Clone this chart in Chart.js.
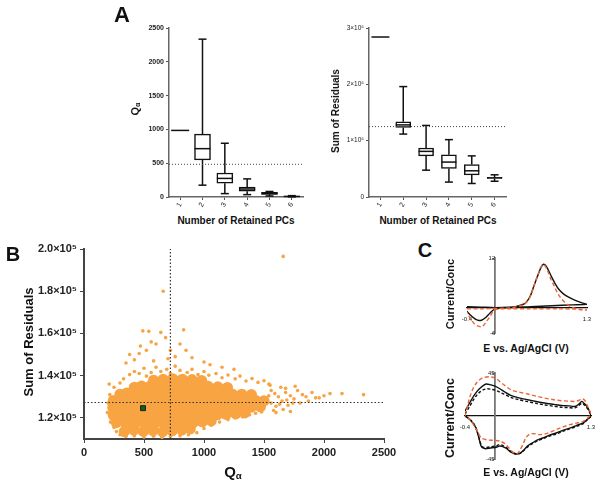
<!DOCTYPE html>
<html>
<head>
<title>Q alpha / residuals</title>
<script src="https://cdn.jsdelivr.net/npm/chart.js"></script>
<style>
  body { margin: 0; background: #fff; }
  #page { position: relative; width: 604px; height: 487px; overflow: hidden; font-family: "Liberation Sans", Arial, sans-serif; color: #111; }
  canvas { position: absolute; }
  .t { position: absolute; white-space: nowrap; font-weight: bold; line-height: 1; transform: translate(-50%, -50%); }
  .r { transform: translate(-50%, -50%) rotate(-90deg); }
  .t sub { font-size: 65%; vertical-align: -0.25em; line-height: 0; }
</style>
</head>
<body>
<div id="page">
  <canvas id="qaBox" width="195" height="215" style="left:120px;top:0px;width:195px;height:215px"></canvas>
  <canvas id="srBox" width="200" height="215" style="left:320px;top:0px;width:200px;height:215px"></canvas>
  <canvas id="scatter" width="400" height="255" style="left:0px;top:232px;width:400px;height:255px"></canvas>
  <canvas id="cvTop" width="160" height="90" style="left:440px;top:250px;width:160px;height:90px"></canvas>
  <canvas id="cvBot" width="160" height="100" style="left:440px;top:365px;width:160px;height:100px"></canvas>

  <div class="t" style="left:122px;top:15px;font-size:22px">A</div>
  <div class="t" style="left:13px;top:254px;font-size:20px">B</div>
  <div class="t" style="left:425px;top:250px;font-size:20px">C</div>
  <div class="t r" style="left:135px;top:109px;font-size:11px">Q<sub>α</sub></div>
  <div class="t" style="left:236px;top:221px;font-size:10px">Number of Retained PCs</div>
  <div class="t r" style="left:336px;top:111px;font-size:10px">Sum of Residuals</div>
  <div class="t" style="left:438px;top:221px;font-size:10px">Number of Retained PCs</div>
  <div class="t r" style="left:28px;top:342px;font-size:13px">Sum of Residuals</div>
  <div class="t" style="left:233px;top:471px;font-size:15px">Q<sub>α</sub></div>
  <div class="t r" style="left:450px;top:294px;font-size:11px">Current/Conc</div>
  <div class="t" style="left:526px;top:348px;font-size:10.5px">E vs. Ag/AgCl (V)</div>
  <div class="t r" style="left:450px;top:418px;font-size:12.5px">Current/Conc</div>
  <div class="t" style="left:526px;top:472px;font-size:10.5px">E vs. Ag/AgCl (V)</div>
</div>

<script>
// ---- data ----
const pcs = ["1", "2", "3", "4", "5", "6"];

// A, left: Q alpha box plots (PC 1 is a single value)
const qaMin = [null, 175, 50, 35, 15, 2];
const qaQ1  = [null, 550, 205, 85, 38, 4];
const qaMed = [985, 715, 275, 118, 50, 8];
const qaQ3  = [null, 930, 355, 145, 68, 14];
const qaMax = [null, 2335, 795, 268, 82, 20];
const qaLimit = 484;

// A, right: sum of residuals box plots
const srMin = [null, 111700, 47600, 26500, 24000, 28000];
const srQ1  = [null, 123500, 73000, 50600, 39400, 33000];
const srMed = [284000, 128000, 81000, 62000, 46500, 34000];
const srQ3  = [null, 133600, 87000, 75000, 57600, 35000];
const srMax = [null, 196000, 127000, 101800, 73000, 39400];
const srLimit = 125000;

// B: dense core of the cloud [Q alpha, sum of residuals]
const cloudCore = [
  [335,113500],[415,114200],[495,113600],[575,114000],[655,113400],[735,113900],[815,114300],[885,114800],
  [270,117800],[350,117200],[430,117600],[510,117000],[590,117400],[670,117100],[750,117500],[830,117300],[910,117800],[985,118200],[1060,118600],
  [245,121200],[310,120800],[390,121000],[470,120600],[550,120900],[630,120700],[710,121100],[790,120800],[870,121000],[950,121200],[1030,121300],[1110,121500],[1185,121700],[1265,122000],[1340,122400],
  [240,124800],[285,124300],[355,124500],[435,124200],[515,124600],[595,124400],[675,124500],[755,124300],[835,124600],[915,124400],[995,124500],[1075,124600],[1155,124700],[1235,124800],[1315,124900],[1395,125100],[1470,125300],
  [245,128200],[310,127800],[390,128000],[470,128200],[550,127900],[630,128100],[710,128000],[790,128300],[870,127900],[950,128100],[1030,128000],[1110,128200],[1190,128000],[1270,128100],[1350,128000],[1430,128300],[1500,128100],
  [300,131200],[355,131700],[435,131500],[515,131800],[595,131600],[675,131900],[755,131700],[835,131800],[915,131600],[995,131700],[1075,131500],[1155,131400],[1235,131300],[1315,131200],[1395,131000],
  [420,134500],[480,135000],[555,135200],[635,135300],[715,135400],[795,135300],[875,135200],[955,135100],[1035,134900],[1115,134700],[1195,134400],
  [580,137800],[660,138200],[740,138500],[820,138300],[900,138100],[980,137700]
];
// B: loose points around the core and outliers
const cloudLoose = [
  [300,136500],[330,138500],[380,140500],[420,142000],[460,141000],[500,143500],[520,139800],[560,141500],[600,144000],[640,142000],
  [690,143000],[720,141000],[760,144500],[800,142500],[860,141500],[900,143000],[950,140500],[1000,142000],[1040,140200],[1100,141000],
  [1150,139000],[1200,140300],[1260,138500],[1300,139800],[1350,137500],[1400,138600],[1450,136800],[1500,137600],[1550,135500],
  [350,146000],[420,147500],[380,150000],[460,150500],[520,152000],[560,156000],[600,155000],[490,161200],[540,161000],[640,160500],
  [680,158000],[720,152000],[800,155000],[830,161700],[850,152000],[700,148000],[900,148500],[1000,146500],[1050,145200],[1150,144000],
  [1250,143000],[660,180000],[1660,196500],[470,154000],[760,149000],[580,147000],
  [200,127000],[195,122500],[210,136000],[215,131000],[250,134500],[220,118000],[250,115500],[270,113500],
  [300,112000],[350,111200],[420,111500],[500,111000],[580,111300],[650,110800],[720,111200],[800,111500],[870,112000],[940,113000],
  [1000,115000],[1060,116500],[1130,118000],[1200,119200],[1260,120000],[1320,120500],[1380,121500],[1430,122200],[1480,122800],
  [1560,133000],[1600,125500],[1620,130000],[1650,128000],[1680,132000],[1700,126000],[1720,130500],[1750,129000],[1780,133000],
  [1800,127000],[1820,131000],[1850,130000],[1870,128000],[1900,132000],[1930,129500],[1560,127000],[1580,123500],[1640,134500],
  [1540,136000],[1600,122500],[1660,124000],[1720,123000],[1680,134000],[1760,135000],[1960,129500],[2000,130500],[2050,131500],
  [2150,131500],[2330,131000],[1540,130500],[1590,131500],[1630,126500],[1690,128500],[1740,127000]
];
const selected = [[492, 124600]];
const qaCut = 720;
const srCut = 127300;

// C: voltammograms [E (V), current/conc]
const cvTopBlack = [
  [-0.4,0.3],[-0.2,0.2],[0,0.1],[0.2,0.2],[0.3,0.4],[0.4,0.9],[0.45,1.6],[0.5,3.0],[0.54,4.9],[0.58,6.8],[0.61,8.1],
  [0.65,9.8],[0.684,10.5],[0.72,10.1],[0.755,9.0],[0.8,7.4],[0.85,5.8],[0.9,4.5],[0.966,3.4],[1.04,2.6],[1.11,2.0],
  [1.2,1.4],[1.276,1.0],[1.3,0.9],[1.1,0.75],[0.8,0.55],[0.5,0.3],[0.2,0.1],[0,-0.2],[-0.073,-1.2],[-0.144,-2.4],
  [-0.205,-3.0],[-0.25,-2.9],[-0.286,-2.6],[-0.357,-1.6],[-0.4,-0.8]
];
const cvTopOrange = [
  [-0.4,-0.2],[-0.2,-0.2],[0,-0.1],[0.2,0],[0.3,0.3],[0.4,0.8],[0.45,1.5],[0.5,2.9],[0.54,4.8],[0.58,6.8],[0.61,8.2],
  [0.65,9.9],[0.68,10.5],[0.71,10.0],[0.75,8.6],[0.79,6.8],[0.826,5.6],[0.87,4.0],[0.92,2.6],[0.97,1.6],[1.015,0.9],
  [1.08,0.2],[1.156,-0.2],[1.25,-0.5],[1.3,-0.5],[1.2,-0.3],[0.9,-0.2],[0.5,-0.2],[0.2,-0.2],[0,-0.4],[-0.073,-2.0],
  [-0.144,-3.7],[-0.19,-4.5],[-0.25,-4.3],[-0.286,-4.0],[-0.357,-2.4],[-0.4,-1.0]
];
const cvBotBlack = [
  [-0.4,5],[-0.377,8.4],[-0.33,14.5],[-0.286,20.5],[-0.24,25.5],[-0.194,29.3],[-0.15,32],[-0.112,33.5],[-0.05,32.5],
  [0.011,31],[0.07,28.5],[0.125,25.7],[0.217,21.6],[0.33,19],[0.446,17],[0.56,15.2],[0.673,13.6],[0.8,12.2],[0.9,11.1],
  [1.0,10.6],[1.085,10.0],[1.13,12],[1.177,15.3],[1.21,13],[1.245,10],[1.28,5],[1.3,0],
  [1.25,-3.5],[1.195,-7.3],[1.1,-10],[1.013,-12.6],[0.92,-15],[0.83,-17.8],[0.74,-20],[0.648,-23],[0.58,-25],[0.51,-28.2],
  [0.45,-31],[0.397,-35.3],[0.35,-38.5],[0.306,-39.7],[0.26,-39.2],[0.215,-37.7],[0.16,-34],[0.1,-31.8],[0.06,-31.5],
  [0.032,-32.4],[-0.058,-33.5],[-0.126,-34.2],[-0.16,-33.5],[-0.181,-31.8],[-0.2,-27],[-0.218,-21.3],[-0.263,-10.9],
  [-0.332,-3.9],[-0.4,0]
];
const cvBotBlackDash = [
  [-0.4,2],[-0.377,5],[-0.33,11],[-0.286,17],[-0.24,22],[-0.194,25.5],[-0.15,27.5],[-0.1,28.5],[-0.05,28],[0.011,27],
  [0.07,25],[0.125,23],[0.217,19.5],[0.33,17],[0.446,15],[0.56,13.2],[0.673,11.6],[0.8,10.2],[0.9,9.2],[1.0,8.7],
  [1.085,8.5],[1.13,10.5],[1.177,13.5],[1.21,11.5],[1.245,8.5],[1.28,4],[1.3,0],
  [1.25,-4],[1.195,-8],[1.1,-11],[1.013,-13.5],[0.92,-16],[0.83,-18.8],[0.74,-21],[0.648,-24],[0.58,-26],[0.51,-29],
  [0.45,-32],[0.397,-35.8],[0.35,-38.8],[0.306,-39.7],[0.26,-39],[0.215,-37],[0.16,-33],[0.1,-30.5],[0.06,-30],
  [0.032,-31],[-0.058,-32.3],[-0.126,-33],[-0.16,-32.5],[-0.181,-30.5],[-0.2,-26],[-0.218,-20.5],[-0.263,-10.5],
  [-0.332,-3.5],[-0.4,0]
];
const cvBotOrange = [
  [-0.4,0],[-0.38,5],[-0.355,14],[-0.33,21],[-0.29,29],[-0.24,35],[-0.194,38.5],[-0.14,40.4],[-0.07,41],[0.011,39.7],
  [0.07,36],[0.125,32.7],[0.217,27.5],[0.33,25],[0.446,23],[0.56,20.8],[0.673,18.8],[0.8,17],[0.9,16],[1.0,15.5],
  [1.085,15.3],[1.14,16.5],[1.18,18.1],[1.22,16],[1.245,11.8],[1.28,6],[1.3,2],
  [1.25,-2.5],[1.195,-5.6],[1.1,-7.5],[1.013,-9.1],[0.92,-11.5],[0.83,-14.3],[0.75,-17],[0.67,-19],[0.6,-19.5],
  [0.53,-18.5],[0.47,-19],[0.42,-23],[0.38,-30],[0.33,-37],[0.3,-39.5],[0.25,-38],[0.2,-34],[0.14,-29],[0.08,-26.5],
  [0,-25.5],[-0.1,-25],[-0.18,-23],[-0.22,-18],[-0.27,-11],[-0.33,-4],[-0.4,0]
];

// ---- shared settings ----
Chart.defaults.font.family = '"Liberation Sans", Arial, sans-serif';
Chart.defaults.color = "#222";
Chart.defaults.animation = false;
Chart.defaults.responsive = false;
Chart.defaults.plugins.legend.display = false;
Chart.defaults.plugins.tooltip.enabled = false;

const toXY = arr => arr.map(p => ({ x: p[0], y: p[1] }));
const plain = v => String(v);

// whiskers, medians and the dotted limit, drawn through the chart's scales
const boxPlugin = {
  id: "boxes",
  afterDatasetsDraw(chart, args, opts) {
    const { ctx, chartArea, scales: { x, y } } = chart;
    const line = (x1, y1, x2, y2) => { ctx.beginPath(); ctx.moveTo(x1, y1); ctx.lineTo(x2, y2); ctx.stroke(); };
    ctx.save();
    ctx.strokeStyle = "#111";
    ctx.lineWidth = 1.5;
    opts.med.forEach((m, i) => {
      const cx = x.getPixelForValue(i);
      if (opts.min[i] == null) {
        line(cx - 9, y.getPixelForValue(m), cx + 9, y.getPixelForValue(m));
        return;
      }
      const half = opts.half;
      line(cx, y.getPixelForValue(opts.max[i]), cx, y.getPixelForValue(opts.q3[i]));
      line(cx, y.getPixelForValue(opts.q1[i]), cx, y.getPixelForValue(opts.min[i]));
      line(cx - 4, y.getPixelForValue(opts.max[i]), cx + 4, y.getPixelForValue(opts.max[i]));
      line(cx - 4, y.getPixelForValue(opts.min[i]), cx + 4, y.getPixelForValue(opts.min[i]));
      line(cx - half, y.getPixelForValue(m), cx + half, y.getPixelForValue(m));
    });
    ctx.strokeStyle = "#444";
    ctx.lineWidth = 1;
    ctx.setLineDash([1, 2]);
    line(chartArea.left, y.getPixelForValue(opts.limit), chartArea.right, y.getPixelForValue(opts.limit));
    ctx.restore();
  }
};

function boxChart(id, stats, yOpts, padRight) {
  return new Chart(document.getElementById(id), {
    type: "bar",
    data: {
      labels: pcs,
      datasets: [{
        data: stats.q1.map((v, i) => v == null ? null : [v, stats.q3[i]]),
        backgroundColor: "#fff",
        borderColor: "#111",
        borderWidth: 1.5,
        borderSkipped: false,
        barThickness: stats.half * 2
      }]
    },
    options: {
      layout: { padding: { top: 28, right: padRight, left: 0, bottom: 0 } },
      plugins: { boxes: stats },
      scales: {
        x: {
          grid: { display: true, drawOnChartArea: false, offset: false, tickLength: 3, color: "#555", lineWidth: 1 },
          border: { color: "#666", width: 1.5 },
          ticks: { font: { size: 7 }, minRotation: 60, maxRotation: 60, padding: 1 },
          afterFit: s => { s.height = 18; }
        },
        y: Object.assign({
          grid: { drawOnChartArea: false, tickLength: 3, color: "#555" },
          border: { color: "#666", width: 1.5 },
          afterFit: s => { s.width = 49; }
        }, yOpts)
      }
    },
    plugins: [boxPlugin]
  });
}

boxChart("qaBox",
  { min: qaMin, q1: qaQ1, med: qaMed, q3: qaQ3, max: qaMax, limit: qaLimit, half: 8 },
  { min: 0, max: 2500, ticks: { stepSize: 500, font: { size: 7, weight: "bold" }, padding: 2, callback: plain } },
  12);

boxChart("srBox",
  { min: srMin, q1: srQ1, med: srMed, q3: srQ3, max: srMax, limit: srLimit, half: 7.5 },
  { min: 0, max: 300000,
    ticks: { stepSize: 100000, font: { size: 6.5 }, padding: 2,
             callback: v => v === 0 ? "0" : (v / 1e5) + "×10⁵" } },
  14);

// ---- B: scatter ----
new Chart(document.getElementById("scatter"), {
  type: "scatter",
  data: {
    datasets: [
      { data: [{ x: qaCut, y: 110000 }, { x: qaCut, y: 200000 }], showLine: true, pointRadius: 0,
        borderColor: "#333", borderWidth: 1.2, borderDash: [1.5, 2] },
      { data: [{ x: 0, y: srCut }, { x: 2500, y: srCut }], showLine: true, pointRadius: 0,
        borderColor: "#333", borderWidth: 1.2, borderDash: [1.5, 2] },
      { data: toXY(selected), pointStyle: "rect", pointRadius: 3.5, backgroundColor: "#1d5a1d", borderColor: "#0b2a0b", borderWidth: 1 },
      { data: toXY(cloudCore), pointRadius: 5.6, backgroundColor: "#f8a443", borderWidth: 0 },
      { data: toXY(cloudLoose), pointRadius: 1.8, backgroundColor: "#f8a443", borderWidth: 0 }
    ]
  },
  options: {
    layout: { padding: { top: 17, right: 16, left: 0, bottom: 0 } },
    scales: {
      x: {
        min: 0, max: 2500,
        grid: { drawOnChartArea: false, tickLength: 4, color: "#444" },
        border: { color: "#444", width: 2 },
        ticks: { stepSize: 500, font: { size: 11, weight: "bold" }, padding: 3, callback: plain },
        afterFit: s => { s.height = 48; }
      },
      y: {
        min: 110000, max: 200000,
        grid: { drawOnChartArea: false, tickLength: 4, color: "#444" },
        border: { color: "#444", width: 2 },
        ticks: { font: { size: 11, weight: "bold" }, padding: 3,
                 callback: v => (v / 1e5).toFixed(1) + "×10⁵" },
        afterBuildTicks: s => { s.ticks = [120000, 140000, 160000, 180000, 200000].map(v => ({ value: v })); },
        afterFit: s => { s.width = 84; }
      }
    }
  }
});

// ---- C: voltammograms ----
function cvChart(id, lines, yMin, yMax, pad) {
  return new Chart(document.getElementById(id), {
    type: "scatter",
    data: {
      datasets: lines.map(l => ({
        data: toXY(l.data), showLine: true, pointRadius: 0, tension: 0.3,
        borderColor: l.color, borderWidth: 1.4, borderDash: l.dash || []
      }))
    },
    options: {
      layout: { padding: pad },
      scales: {
        x: {
          min: -0.4, max: 1.3, position: { y: 0 },
          grid: { display: false },
          border: { color: "#111", width: 1.3 },
          ticks: { font: { size: 6 }, padding: 0, callback: plain },
          afterBuildTicks: s => { s.ticks = [{ value: -0.4 }, { value: 1.3 }]; }
        },
        y: {
          min: yMin, max: yMax, position: { x: 0 },
          grid: { drawOnChartArea: false, tickLength: 2, color: "#777" },
          border: { color: "#777", width: 1.8 },
          ticks: { font: { size: 6 }, padding: 1 },
          afterBuildTicks: s => { s.ticks = [{ value: yMin }, { value: yMax }]; }
        }
      }
    }
  });
}

cvChart("cvTop", [
  { data: cvTopOrange, color: "#ea6534", dash: [4, 2.5] },
  { data: cvTopBlack, color: "#111" }
], -6, 12, { left: 27, right: 13, top: 8, bottom: 7 });

cvChart("cvBot", [
  { data: cvBotOrange, color: "#ea6534", dash: [4, 2.5] },
  { data: cvBotBlackDash, color: "#111", dash: [3, 2] },
  { data: cvBotBlack, color: "#111" }
], -45, 45, { left: 25, right: 9, top: 8, bottom: 6 });
</script>
</body>
</html>
